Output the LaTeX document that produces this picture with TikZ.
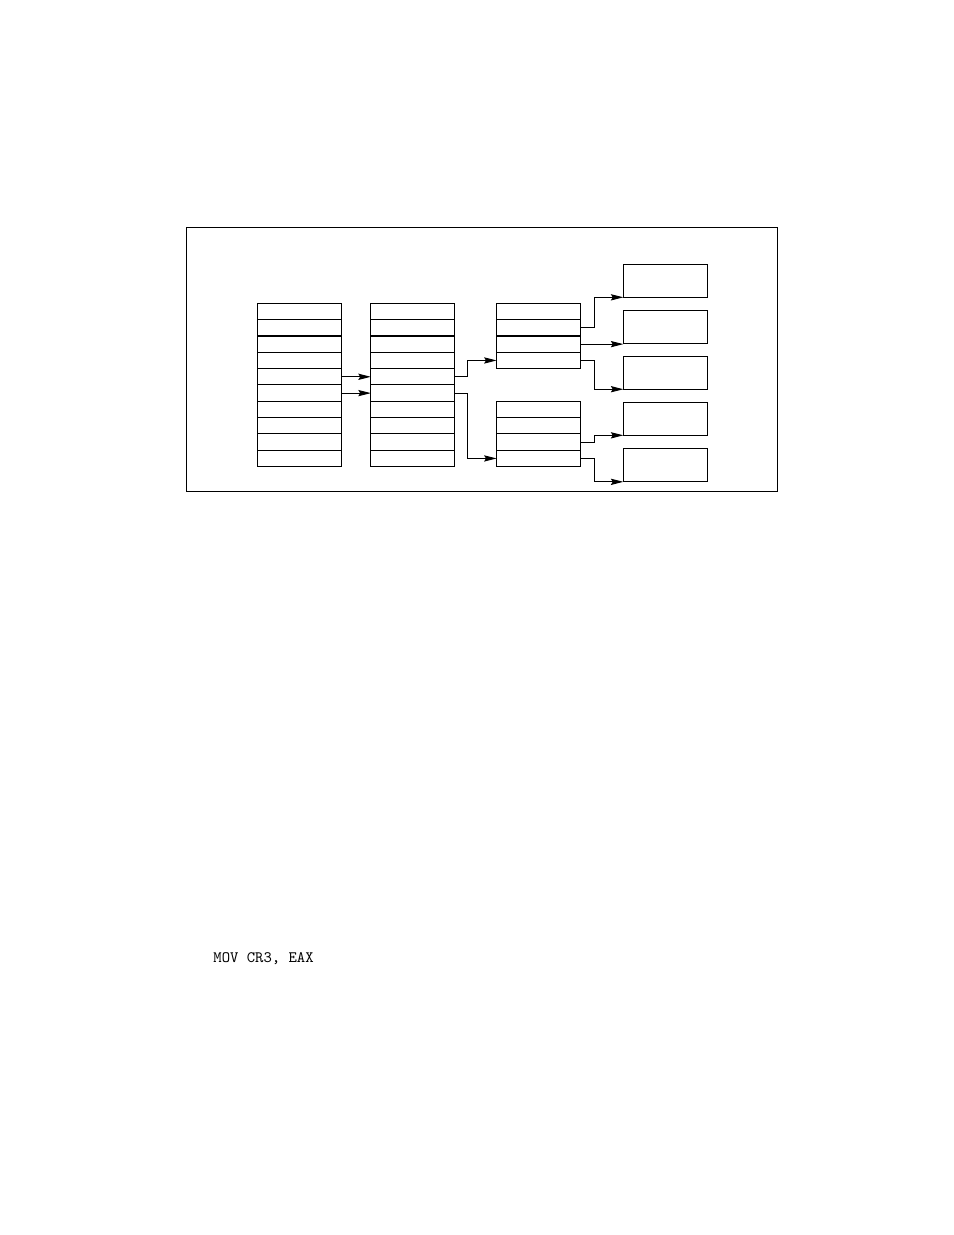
\documentclass[tikz,border=0pt]{standalone}
\usetikzlibrary{arrows.meta,positioning}
\begin{document}
\begin{tikzpicture}[x=0.6415pt,y=-0.6415pt,
  line width=0.6pt,
  cell/.style={draw,rectangle,inner sep=0pt,outer sep=0pt,minimum width=53.9pt,minimum height=10.48pt},
  page/.style={draw,rectangle,inner sep=0pt,outer sep=0pt,minimum width=54.1pt,minimum height=21.2pt},
  link/.style={-{Stealth[length=8pt,width=4pt,inset=1.2pt]}},
  frame/.style={draw,line width=0.6pt}]
\useasboundingbox (0,0) rectangle (954,1235);
\draw[frame] (186,227.5) rectangle (777,491.5);
% column 1 and 2
\foreach \i in {0,...,9} {
  \node[cell] (a\i) at (299.3,{303.3+16.33*(\i+0.5)}) {};
  \node[cell] (b\i) at (412.8,{303.3+16.33*(\i+0.5)}) {};
}
% column 3
\foreach \i in {0,...,3} {
  \node[cell] (c\i) at (538.6,{303.3+16.33*(\i+0.5)}) {};
}
\foreach \i in {6,...,9} {
  \node[cell] (c\i) at (538.6,{303.3+16.33*(\i+0.5)}) {};
}
% pages
\node[page] (p1) at (665.5,280.8) {};
\node[page] (p2) at (665.5,326.7) {};
\node[page] (p3) at (665.5,372.7) {};
\node[page] (p4) at (665.5,418.8) {};
\node[page] (p5) at (665.5,465.3) {};
% connectors
\draw[link] (a4.east) -- (b4.west);
\draw[link] (a5.east) -- (b5.west);
\draw[link] (b4.east) -- ++(13,0) |- (c3.west);
\draw[link] (b5.east) -- ++(13,0) |- (c9.west);
\draw[link] (c1.east) -- ++(14,0) |- (p1.south west);
\draw[link] (c2.east) -- (c2.east -| p2.west);
\draw[link] (c3.east) -- ++(14,0) |- (p3.south west);
\draw[link] (c8.east) -- ++(14,0) |- (p4.south west);
\draw[link] (c9.east) -- ++(14,0) |- (p5.south west);
\node[anchor=west,inner sep=0pt,font=\ttfamily\fontsize{10.2}{12}\selectfont] (code) at (213,959) {MOV CR3, EAX};
\end{tikzpicture}
\end{document}
